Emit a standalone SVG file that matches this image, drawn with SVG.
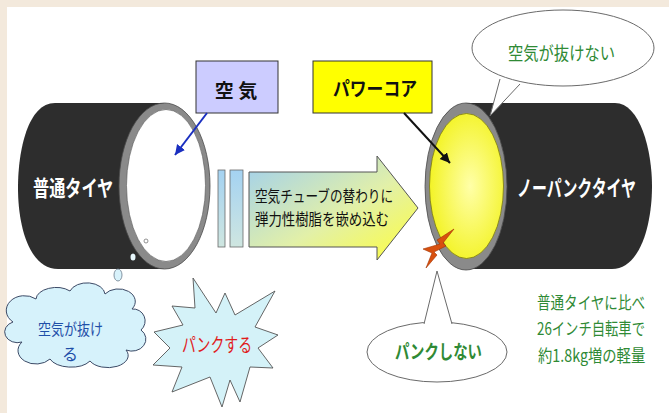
<svg xmlns="http://www.w3.org/2000/svg" width="669" height="413" viewBox="0 0 669 413">
  <defs>
    <style>
      .jp { font-family: "Noto Sans CJK JP", "Noto Sans", sans-serif; }
      .tire { fill: #2d2d2d; }
      .ring { fill: #8a8a8a; stroke: #4a4a4a; stroke-width: 0.8; }
      .white-label { fill: #ffffff; font-weight: bold; font-size: 22px; }
      .green { fill: #2f8a35; }
      .callout { fill: #ffffff; stroke: #6a6a6a; stroke-width: 1; }
    </style>
    <linearGradient id="arrowFill" x1="0" y1="0" x2="1" y2="1">
      <stop offset="0" stop-color="#9fcff0"/>
      <stop offset="0.55" stop-color="#e2f0a8"/>
      <stop offset="1" stop-color="#ffff3a"/>
    </linearGradient>
    <linearGradient id="barFill" x1="0" y1="0" x2="0" y2="1">
      <stop offset="0" stop-color="#a4d2f2"/>
      <stop offset="1" stop-color="#cfe6e0"/>
    </linearGradient>
    <radialGradient id="coreFill" cx="0.55" cy="0.5" r="0.6">
      <stop offset="0" stop-color="#ffffa8"/>
      <stop offset="1" stop-color="#f2f21a"/>
    </radialGradient>
    <marker id="headBlue" markerUnits="userSpaceOnUse" markerWidth="12" markerHeight="12" refX="10" refY="5" orient="auto">
      <path d="M0,0 L10,5 L0,10 Z" fill="#1a2fc0"/>
    </marker>
    <marker id="headBlack" markerUnits="userSpaceOnUse" markerWidth="12" markerHeight="12" refX="10" refY="5" orient="auto">
      <path d="M0,0 L10,5 L0,10 Z" fill="#111111"/>
    </marker>
  </defs>

  <!-- page -->
  <rect x="0" y="0" width="669" height="413" fill="#f3e9dc"/>
  <rect x="7" y="7" width="662" height="406" fill="#ffffff"/>

  <!-- ordinary tyre -->
  <g id="tire-normal">
    <path class="tire" d="M165,103 L55,103 C28,103 18,150 18,188 C18,228 30,269 58,269 L165,269 Z"/>
    <ellipse class="ring" cx="164.5" cy="186" rx="45.5" ry="83"/>
    <ellipse cx="166" cy="185.5" rx="39.5" ry="76" fill="#ffffff" stroke="#555555" stroke-width="0.6"/>
    <circle cx="146" cy="241" r="2" fill="#ffffff" stroke="#777777" stroke-width="0.8"/>
    <ellipse cx="133" cy="257" rx="2.5" ry="3.5" fill="#e6f6fb"/>
    <text class="jp white-label" transform="translate(33,196) scale(0.75,1)" x="0" y="0" textLength="107" lengthAdjust="spacingAndGlyphs">普通タイヤ</text>
  </g>

  <!-- air drop -->
  <g id="drop">
    <ellipse cx="118" cy="275" rx="4" ry="6" fill="#d8f2fb" stroke="#6a7a8a" stroke-width="0.8"/>
  </g>

  <!-- label: air -->
  <g id="label-air">
    <rect x="196" y="61" width="82" height="52" fill="#ccccff" stroke="#333333" stroke-width="1"/>
    <text class="jp" x="236" y="98" font-size="19" font-weight="bold" text-anchor="middle" fill="#111111">空 気</text>
  </g>

  <!-- label: power core -->
  <g id="label-core">
    <rect x="313" y="61" width="119" height="52" fill="#ffff00" stroke="#333333" stroke-width="1"/>
    <text class="jp" x="333" y="96" font-size="19" font-weight="bold" fill="#111111" textLength="84" lengthAdjust="spacingAndGlyphs">パワーコア</text>
  </g>

  <!-- separator bars -->
  <g id="bars">
    <rect x="218" y="170" width="7" height="77" fill="url(#barFill)" stroke="#6a6a6a" stroke-width="0.8"/>
    <rect x="230" y="170" width="13" height="77" fill="url(#barFill)" stroke="#6a6a6a" stroke-width="0.8"/>
  </g>

  <!-- block arrow -->
  <g id="block-arrow">
    <path d="M249,172 L377,172 L377,156 L418,208 L377,260 L377,247 L249,247 Z" fill="url(#arrowFill)" stroke="#555555" stroke-width="1"/>
    <text class="jp" x="255" y="202" font-size="16" fill="#111111" textLength="138" lengthAdjust="spacingAndGlyphs">空気チューブの替わりに</text>
    <text class="jp" x="255" y="225" font-size="16" fill="#111111" textLength="134" lengthAdjust="spacingAndGlyphs">弾力性樹脂を嵌め込む</text>
  </g>

  <!-- no-puncture tyre -->
  <g id="tire-nopuncture">
    <path class="tire" d="M466,103 L615,103 C640,103 652,150 652,186 C652,225 640,269 612,269 L466,269 Z"/>
    <ellipse class="ring" cx="466" cy="186.5" rx="41" ry="83.5"/>
    <ellipse cx="466.5" cy="186" rx="37" ry="72.5" fill="url(#coreFill)" stroke="#7a7a10" stroke-width="0.8"/>
    <text class="jp white-label" transform="translate(517,196) scale(0.68,1)" x="0" y="0" textLength="175" lengthAdjust="spacingAndGlyphs">ノーパンクタイヤ</text>
  </g>

  <!-- puncture spark -->
  <g id="spark">
    <polygon points="454,229 437,240 440,244 423,249 432,253 426,268 437,255 434,252 446,246 443,243" fill="#d8500f" stroke="#a33300" stroke-width="0.6"/>
  </g>

  <!-- speech bubble: air does not escape -->
  <g id="bubble-noleak">
    <ellipse class="callout" cx="563" cy="48" rx="91" ry="38"/>
    <path d="M500,79 L490,116 L520,84" fill="#ffffff" stroke="#6a6a6a" stroke-width="1"/>
    <text class="jp green" x="508" y="60" font-size="18" textLength="107" lengthAdjust="spacingAndGlyphs">空気が抜けない</text>
  </g>

  <!-- speech bubble: no puncture -->
  <g id="bubble-nopuncture">
    <ellipse class="callout" cx="437" cy="352" rx="70" ry="30"/>
    <path d="M424,324 L437,271 L452,324" fill="#ffffff" stroke="#6a6a6a" stroke-width="1"/>
    <text class="jp green" x="395" y="359" font-size="19" font-weight="bold" textLength="87" lengthAdjust="spacingAndGlyphs">パンクしない</text>
  </g>

  <!-- cloud: air leaks -->
  <g id="cloud-leak">
    <path d="M22,342 A12 10 0 0 1 13,322 A16 13 0 0 1 36,299 A20 12 0 0 1 70,291 A18 12 0 0 1 105,294 A16 12 0 0 1 132,309 A12 12 0 0 1 141,330 A14 12 0 0 1 126,350 A20 12 0 0 1 90,361 A22 12 0 0 1 50,359 A16 12 0 0 1 22,342 Z" fill="#d6f2fb" stroke="#3c4a66" stroke-width="1"/>
    <text class="jp" x="38" y="335" font-size="16" fill="#1f4fa8" textLength="65" lengthAdjust="spacingAndGlyphs">空気が抜け</text>
    <text class="jp" x="70" y="360" font-size="16" fill="#1f4fa8" text-anchor="middle">る</text>
  </g>

  <!-- starburst: puncture -->
  <g id="burst-puncture">
    <polygon points="193,278 216,313 225,293 235,315 275,291 255,327 278,335 258,348 273,368 250,367 240,402 230,380 222,407 210,377 172,392 182,367 153,365 170,348 154,332 183,325 172,306 195,308" fill="#d4f2f8" stroke="#555555" stroke-width="0.9" stroke-linejoin="miter"/>
    <text class="jp" x="182" y="352" font-size="19" fill="#e01c1c" textLength="70" lengthAdjust="spacingAndGlyphs">パンクする</text>
  </g>

  <!-- note on weight -->
  <g id="note-weight">
    <text class="jp green" transform="translate(537,309) scale(0.8,1)" x="0" y="0" font-size="17" textLength="135" lengthAdjust="spacingAndGlyphs">普通タイヤに比べ</text>
    <text class="jp green" transform="translate(537,335) scale(0.8,1)" x="0" y="0" font-size="17" textLength="135" lengthAdjust="spacingAndGlyphs">26インチ自転車で</text>
    <text class="jp green" transform="translate(538,362) scale(0.8,1)" x="0" y="0" font-size="17" textLength="134" lengthAdjust="spacingAndGlyphs">約1.8kg増の軽量</text>
  </g>

  <!-- connectors -->
  <g id="connectors" fill="none" stroke-width="2">
    <line x1="207" y1="113" x2="175" y2="155" stroke="#1a2fc0" marker-end="url(#headBlue)"/>
    <line x1="404" y1="113" x2="450" y2="163" stroke="#111111" marker-end="url(#headBlack)"/>
  </g>
</svg>
